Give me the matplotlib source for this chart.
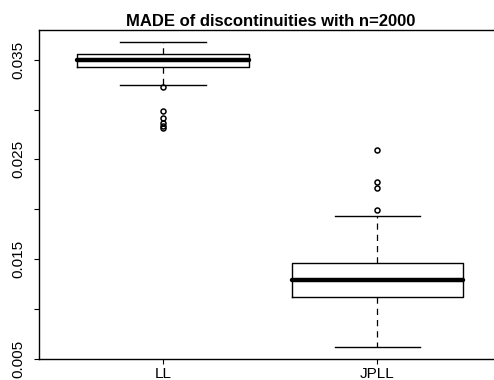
import matplotlib
matplotlib.use("Agg")
import matplotlib.pyplot as plt

plt.rcParams['font.family'] = ['Liberation Sans', 'DejaVu Sans']

TITLE = "MADE of discontinuities with n=2000"
LABELS = ["LL", "JPLL"]

# five-number summaries
WHISKER_LO = [0.03246, 0.0062]
Q1 = [0.0343, 0.01122]
MEDIAN = [0.0350, 0.01289]
Q3 = [0.0356, 0.01464]
WHISKER_HI = [0.03678, 0.01932]
OUTLIERS = [
    [0.03223, 0.02985, 0.02918, 0.02862, 0.02830, 0.02811],
    [0.02597, 0.02272, 0.02215, 0.01996],
]

YTICKS = [0.005, 0.010, 0.015, 0.020, 0.025, 0.030, 0.035]


def main():
    stats = []
    for i, lab in enumerate(LABELS):
        stats.append(dict(label=lab, whislo=WHISKER_LO[i], q1=Q1[i], med=MEDIAN[i],
                          q3=Q3[i], whishi=WHISKER_HI[i], fliers=OUTLIERS[i]))

    fig = plt.figure(figsize=(4.94, 3.8), dpi=100)
    ax = fig.add_axes([0.078, 0.0553, 0.938, 0.8657])

    ax.bxp(stats, positions=[1, 2], widths=0.8,
           boxprops=dict(color='black', linewidth=1.0),
           medianprops=dict(color='black', linewidth=3.2, solid_capstyle='round'),
           whiskerprops=dict(color='black', linewidth=0.9, linestyle=(0, (5, 4))),
           capprops=dict(color='black', linewidth=1.0),
           capwidths=0.4,
           flierprops=dict(marker='o', markersize=3.6, markerfacecolor='none',
                           markeredgecolor='black', markeredgewidth=1.1))

    ax.set_xlim(0.42, 2.58)
    ax.set_ylim(0.00497, 0.03798)
    ax.set_yticks(YTICKS)
    ax.set_yticklabels([f"{t:.3f}" if j % 2 == 0 else "" for j, t in enumerate(YTICKS)],
                       rotation=90, va='center')
    ax.tick_params(axis='y', length=3.5, width=0.8, pad=6, labelsize=11)
    ax.tick_params(axis='x', length=3.5, width=0.8, pad=2, labelsize=11)
    for s in ax.spines.values():
        s.set_linewidth(1.0)
    ax.spines['right'].set_visible(False)

    ax.set_title(TITLE, fontsize=12, fontweight='bold', pad=3)
    fig.savefig("out.png", dpi=100)


if __name__ == '__main__':
    main()
